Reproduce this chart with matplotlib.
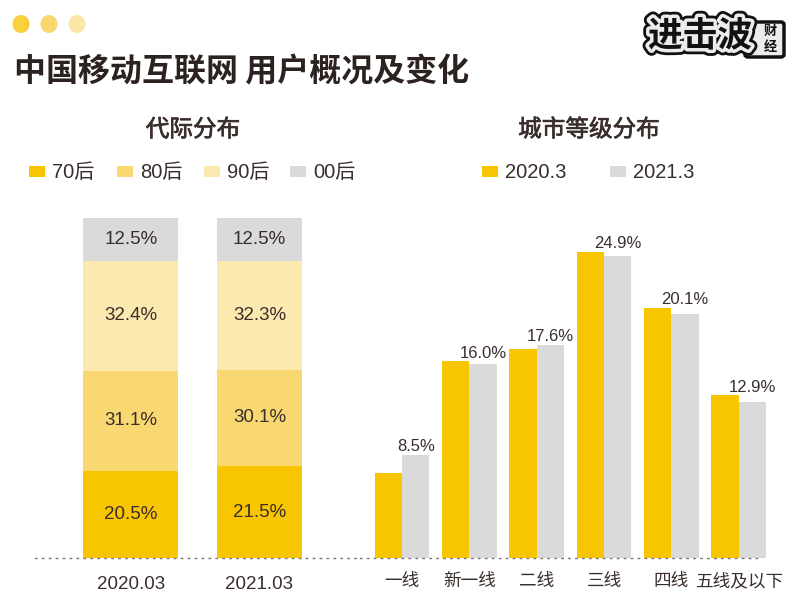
import matplotlib
matplotlib.use("Agg")
import matplotlib.pyplot as plt
import matplotlib.patheffects as pe
from matplotlib.patches import Ellipse, FancyBboxPatch, Rectangle

plt.rcParams["font.family"] = ["Liberation Sans", "Noto Sans CJK SC"]

W, H = 805, 601
INK = "#3a2e2c"
YELLOW = "#f7c600"
MID = "#f9d872"
PALE = "#fce9b0"
GREY = "#d9dad9"
CJK = ["Noto Sans CJK SC"]

# generation split: printed labels, and segment heights
# (the original's segments are not drawn to the scale of its labels)
periods = ["2020.03", "2021.03"]
gen_names = ["70后", "80后", "90后", "00后"]
gen_labels = [
    ["20.5%", "21.5%"],
    ["31.1%", "30.1%"],
    ["32.4%", "32.3%"],
    ["12.5%", "12.5%"],
]
gen_heights = [
    [25.7, 27.0],
    [29.4, 28.4],
    [32.2, 32.0],
    [12.7, 12.6],
]

# city tier split
tiers = ["一线", "新一线", "二线", "三线", "四线", "五线及以下"]
year_names = ["2020.3", "2021.3"]
city_2020 = [7.0, 16.2, 17.2, 25.2, 20.6, 13.4]
city_2021 = [8.5, 16.0, 17.6, 24.9, 20.1, 12.9]


def px_axes(fig, x0, y0, x1, y1):
    # axes placed by pixel box, y measured from the top of the image
    return fig.add_axes([x0 / W, 1 - y1 / H, (x1 - x0) / W, (y1 - y0) / H])


def fig_text(fig, x, y, s, **kw):
    kw.setdefault("color", INK)
    kw.setdefault("va", "center")
    fig.text(x / W, 1 - y / H, s, **kw)


def fig_box(fig, x, y, w, h, color):
    fig.add_artist(Rectangle((x / W, 1 - (y + h) / H), w / W, h / H,
                             transform=fig.transFigure, color=color, lw=0))


def main() -> None:
    fig = plt.figure(figsize=(W / 100, H / 100), dpi=100, facecolor="white")

    # window dots
    for x, c in zip([21, 49, 77], ["#f9cf3a", "#fad86f", "#fce6a6"]):
        fig.add_artist(Ellipse((x / W, 1 - 24 / H), 17 / W, 18 / H,
                               transform=fig.transFigure, color=c, lw=0))

    fig_text(fig, 14, 72, "中国移动互联网 用户概况及变化", fontsize=23,
             fontweight="bold", color="#2c2220", family=CJK)

    # logo: tag behind the small characters, then outlined text
    fig.add_artist(FancyBboxPatch(
        (745 / W, 1 - 57 / H), 39 / W, 35 / H, transform=fig.transFigure,
        boxstyle="round,pad=0,rounding_size=0.004",
        fc="#ececec", ec="#111111", lw=2.5))
    logo_fx = [pe.withStroke(linewidth=9, foreground="#111111"),
               pe.withStroke(linewidth=5, foreground="#ececec")]
    fig_text(fig, 648, 36, "进击波", fontsize=25, fontweight="bold",
             color="#111111", family=CJK, path_effects=logo_fx)
    fig_text(fig, 770, 31, "财", fontsize=9.5, fontweight="bold",
             color="#111111", family=CJK, ha="center")
    fig_text(fig, 770, 47, "经", fontsize=9.5, fontweight="bold",
             color="#111111", family=CJK, ha="center")

    head_fx = [pe.withStroke(linewidth=0.5, foreground=INK)]
    fig_text(fig, 193, 130, "代际分布", fontsize=17, ha="center", family=CJK,
             path_effects=head_fx)
    fig_text(fig, 589, 130, "城市等级分布", fontsize=17, ha="center", family=CJK,
             path_effects=head_fx)

    # legends
    gen_colors = [YELLOW, MID, PALE, GREY]
    for x, name, c in zip([29, 117, 204, 290], gen_names, gen_colors):
        fig_box(fig, x, 166, 16, 11, c)
        fig_text(fig, x + 23, 172, name, fontsize=14.5)
    for x, name, c in zip([482, 610], year_names, [YELLOW, GREY]):
        fig_box(fig, x, 166, 16, 11, c)
        fig_text(fig, x + 23, 172, name, fontsize=14.5)

    # left: stacked bars, x in pixels so the two unequal widths can be kept
    ax = px_axes(fig, 35, 218, 360, 558)
    ax.set_xlim(35, 360)
    ax.set_ylim(0, sum(col[0] for col in gen_heights))
    centers = [130.8, 259.5]
    widths = [95, 85.6]
    bottoms = [0.0, 0.0]
    for seg, labels, c in zip(gen_heights, gen_labels, gen_colors):
        ax.bar(centers, seg, widths, bottom=bottoms, color=c, linewidth=0)
        for i, (x, h, s) in enumerate(zip(centers, seg, labels)):
            ax.text(x, bottoms[i] + h / 2, s, ha="center", va="center",
                    fontsize=13.5, color=INK)
        bottoms = [b + h for b, h in zip(bottoms, seg)]
    ax.set_xticks(centers, periods)
    ax.tick_params(axis="x", length=0, pad=13, labelsize=13.5, labelcolor=INK)
    ax.set_yticks([])

    # right: grouped bars
    ax2 = px_axes(fig, 360, 218, 790, 558)
    ax2.set_xlim(-0.625, 5.76)
    ax2.set_ylim(0, 340 / 12.13)
    xs = list(range(len(tiers)))
    bw = 27.3 / 67.3
    ax2.bar([x - bw / 2 for x in xs], city_2020, bw, color=YELLOW, linewidth=0)
    ax2.bar([x + bw / 2 for x in xs], city_2021, bw, color=GREY, linewidth=0)
    for x, a, b in zip(xs, city_2020, city_2021):
        ax2.text(x + bw / 2, max(a, b) + 0.07, f"{b:.1f}%", ha="center",
                 va="bottom", fontsize=12, color=INK)
    ax2.set_xticks(xs, tiers)
    ax2.tick_params(axis="x", length=0, pad=11, labelsize=12.7, labelcolor=INK)
    ax2.set_yticks([])
    ax2.spines["bottom"].set_bounds(-0.625, 5.27)

    for a in (ax, ax2):
        a.patch.set_alpha(0)
        for side in ("top", "left", "right"):
            a.spines[side].set_visible(False)
        a.spines["bottom"].set_linestyle((0, (1, 4)))
        a.spines["bottom"].set_color("#777777")
        a.spines["bottom"].set_linewidth(1)

    fig.savefig("out.png", dpi=100)


if __name__ == "__main__":
    main()
